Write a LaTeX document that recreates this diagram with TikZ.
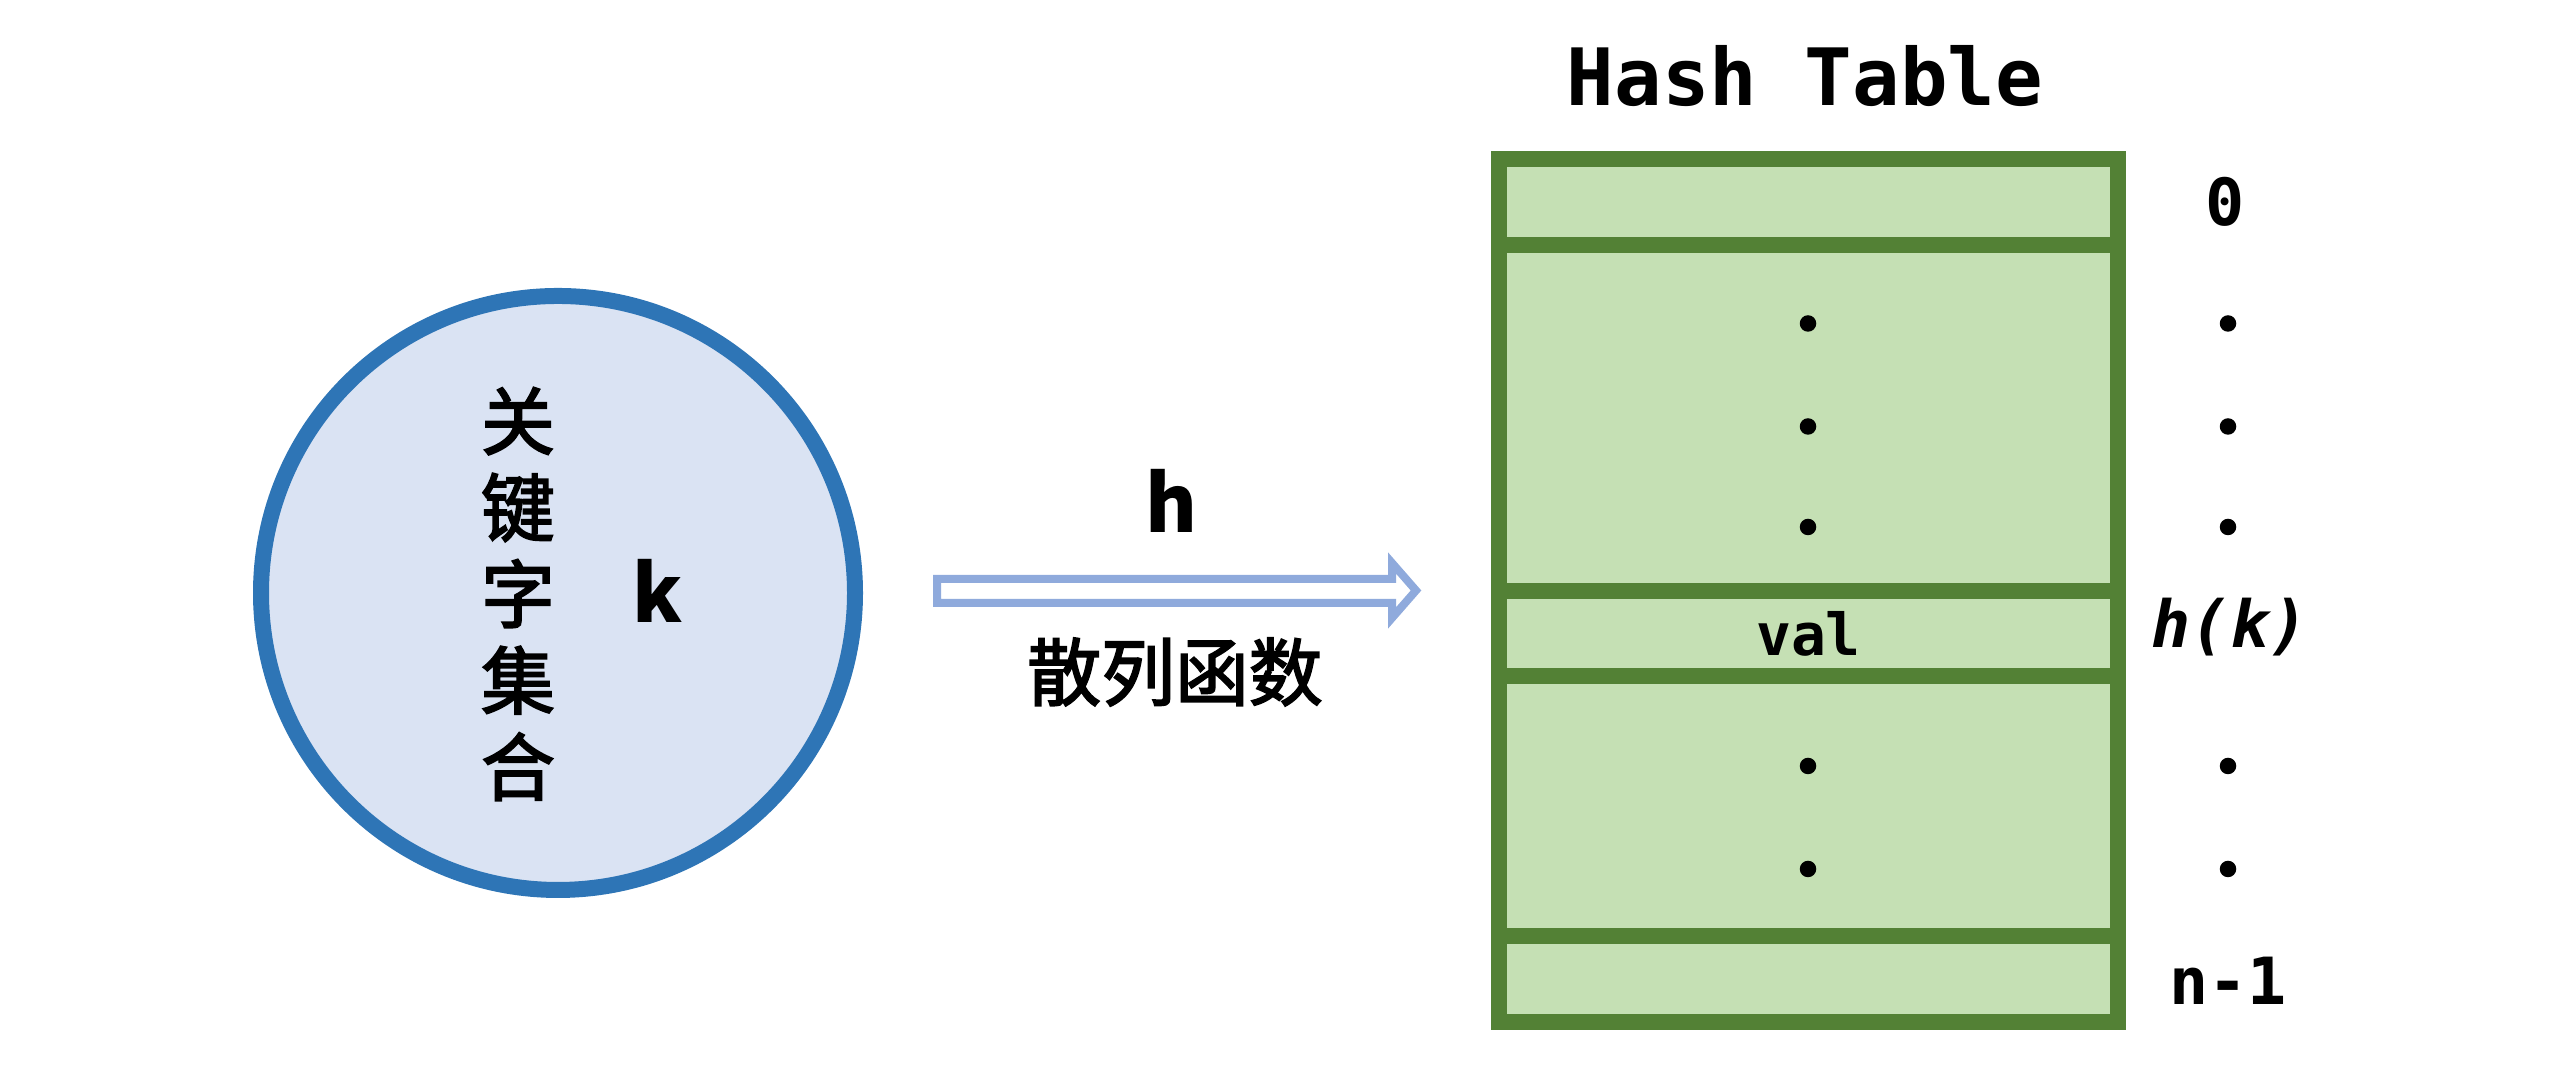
\documentclass[tikz,border=0pt]{standalone}
\usepackage{fontspec}
\setmonofont{DejaVu Sans Mono}
\newfontfamily\cjk{Noto Sans CJK SC}
\newfontfamily\cjkmid{Noto Sans CJK SC}[FakeBold=2.5]
\usetikzlibrary{positioning}

\definecolor{keyblue}{HTML}{2E75B6}
\definecolor{keyfill}{HTML}{DAE3F3}
\definecolor{arrowblue}{HTML}{8FAADC}
\definecolor{slotgreen}{HTML}{538135}
\definecolor{slotfill}{HTML}{C5E0B4}

\begin{document}
\begin{tikzpicture}[
    keyset/.style={circle, draw=keyblue, fill=keyfill, line width=0.16cm, minimum size=5.94cm, inner sep=0pt},
    slot/.style={draw=slotgreen, fill=slotfill, line width=0.16cm, minimum width=6.19cm, inner sep=0pt, outer sep=0pt, font=\ttfamily\bfseries\fontsize{16.5}{18}\selectfont},
    dotmark/.style={circle, fill=black, inner sep=0pt, minimum size=0.165cm},
    idx/.style={anchor=base, font=\ttfamily\bfseries\fontsize{18.5}{20}\selectfont},
    >=latex
]
  \useasboundingbox (0,0) rectangle (25.6,10.81);

  % key set
  \node[keyset] (keys) at (5.58,4.88) {};
  \node[align=center, font=\cjkmid\fontsize{21}{24.6}\selectfont] (keyname) at (5.18,4.87) {关\\键\\字\\集\\合};
  \node[anchor=base, font=\cjk\bfseries\fontsize{22.5}{24}\selectfont] (k) at (6.58,4.58) {k};

  % hash function
  \draw[draw=arrowblue, fill=white, line width=0.08cm] (9.37,5.02) -- (13.92,5.02) -- (13.92,5.18) -- (14.16,4.905)
      -- (13.92,4.63) -- (13.92,4.78) -- (9.37,4.78) -- cycle;
  \node[anchor=base, font=\cjk\bfseries\fontsize{22.5}{24}\selectfont] (h) at (11.72,5.48) {h};
  \node[font=\cjkmid\fontsize{21}{24}\selectfont] (hashname) at (11.75,4.09) {散列函数};

  % table
  \node[anchor=base, font=\ttfamily\bfseries\fontsize{22.5}{24}\selectfont] (title) at (18.05,9.75) {Hash Table};
  \node[slot, minimum height=0.86cm] (row0) at (18.085,8.79) {};
  \node[slot, minimum height=3.46cm] (gap1) at (18.085,6.63) {};
  \node[slot, minimum height=0.855cm] (rowk) at (18.085,4.4725) {val};
  \node[slot, minimum height=2.60cm] (gap2) at (18.085,2.745) {};
  \node[slot, minimum height=0.86cm] (rown) at (18.085,1.015) {};

  \node[dotmark] (g1a) at (18.08,7.575) {};
  \node[dotmark] (g1b) at (18.08,6.545) {};
  \node[dotmark] (g1c) at (18.08,5.54) {};
  \node[dotmark] (g2a) at (18.08,3.15) {};
  \node[dotmark] (g2b) at (18.08,2.12) {};

  % indices
  \node[idx] (i0) at (22.25,8.55) {0};
  \node[dotmark] (i1a) at (22.28,7.575) {};
  \node[dotmark] (i1b) at (22.28,6.545) {};
  \node[dotmark] (i1c) at (22.28,5.54) {};
  \node[idx] (ik) at (22.30,4.33) {\itshape h(k)};
  \node[dotmark] (i2a) at (22.28,3.15) {};
  \node[dotmark] (i2b) at (22.28,2.12) {};
  \node[idx] (in) at (22.28,0.76) {n-1};
\end{tikzpicture}
\end{document}
